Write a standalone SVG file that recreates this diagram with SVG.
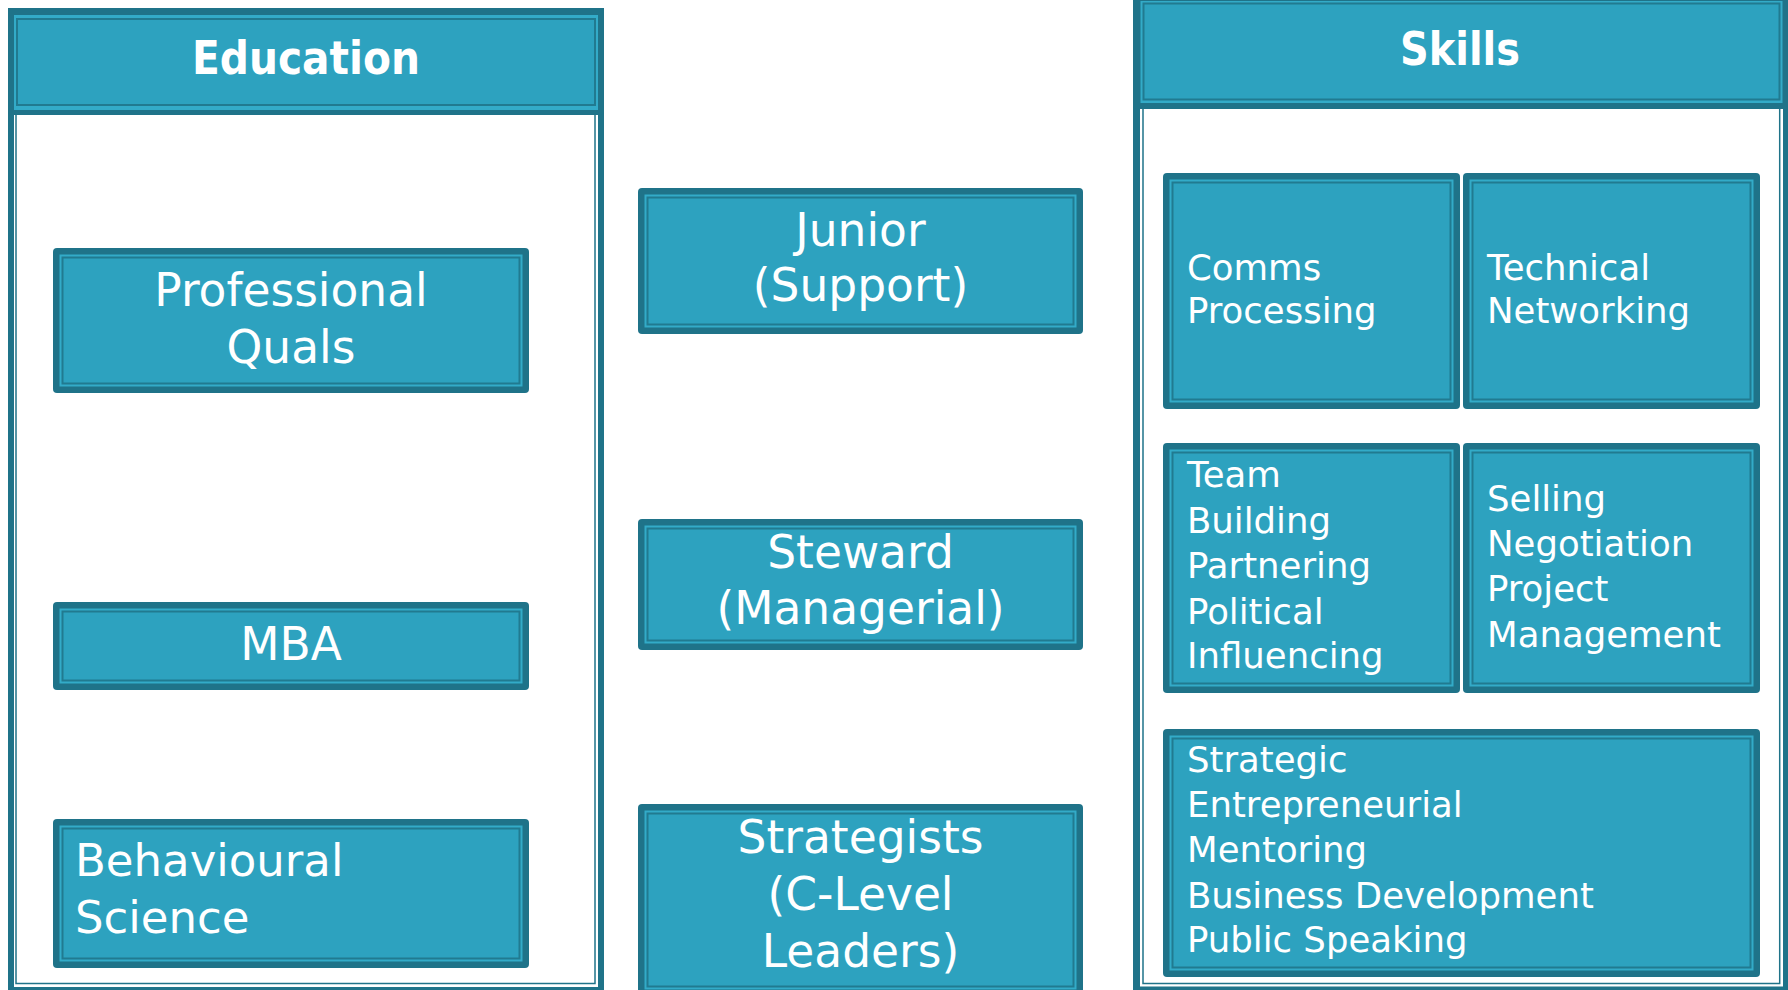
<svg xmlns="http://www.w3.org/2000/svg" width="1788" height="990" viewBox="0 0 1788 990">
<style>
.dk{fill:#1F7389}
.lt{fill:#33ABC8}
.in{fill:#2DA2BF;stroke:#217A90;stroke-width:2}
.body{fill:#FFFFFF;stroke:#1F7389}
.thin{fill:none;stroke:#1F7389;stroke-width:1.5}
text{font-family:"DejaVu Sans","Liberation Sans",sans-serif;fill:#FFFFFF}
.t{font-size:47px;font-weight:bold;text-anchor:middle}
.c{font-size:45.5px;text-anchor:middle}
.l{font-size:45px}
.s{font-size:35.5px}
</style>
<rect width="1788" height="990" fill="#FFFFFF"/>

<g id="education">
<rect class="body" x="11" y="11" width="590" height="979" stroke-width="6"/>
<rect class="thin" x="16" y="16" width="579" height="967.5"/>
<rect class="dk" x="8" y="8" width="596" height="107" rx="3"/>
<rect class="lt" x="14" y="15" width="584" height="95"/>
<rect class="in" x="17" y="19" width="578" height="86"/>
<text class="t" x="306" y="74" textLength="228" lengthAdjust="spacingAndGlyphs">Education</text>
</g>

<g id="skills">
<rect class="body" x="1136.5" y="11" width="650" height="979" stroke-width="7"/>
<rect class="thin" x="1143" y="16" width="636.7" height="967.5"/>
<rect class="dk" x="1133" y="-6" width="657" height="115" rx="3"/>
<rect class="lt" x="1140.5" y="1" width="642" height="102"/>
<rect class="in" x="1143.5" y="3.5" width="636" height="96"/>
<text class="t" x="1460" y="65" textLength="120" lengthAdjust="spacingAndGlyphs">Skills</text>
</g>

<g id="prof-quals">
<rect class="dk" x="53" y="248" width="476" height="145" rx="4"/>
<rect class="lt" x="59.5" y="254.5" width="463" height="132"/>
<rect class="in" x="62.5" y="257.5" width="457" height="126"/>
<text class="c" x="291" y="305.5">Professional</text>
<text class="c" x="291" y="362.5">Quals</text>
</g>

<g id="mba">
<rect class="dk" x="53" y="602" width="476" height="88" rx="4"/>
<rect class="lt" x="59.5" y="608.5" width="463" height="75"/>
<rect class="in" x="62.5" y="611.5" width="457" height="69"/>
<text class="c" x="291" y="660">MBA</text>
</g>

<g id="behavioural">
<rect class="dk" x="53" y="819" width="476" height="149" rx="4"/>
<rect class="lt" x="59.5" y="825.5" width="463" height="136"/>
<rect class="in" x="62.5" y="828.5" width="457" height="130"/>
<text class="l" x="75" y="875.5">Behavioural</text>
<text class="l" x="75" y="932.5">Science</text>
</g>

<g id="junior">
<rect class="dk" x="638" y="188" width="445" height="146" rx="4"/>
<rect class="lt" x="644.5" y="194.5" width="432" height="133"/>
<rect class="in" x="647.5" y="197.5" width="426" height="127"/>
<text class="c" x="860.5" y="246">Junior</text>
<text class="c" x="860.5" y="301">(Support)</text>
</g>

<g id="steward">
<rect class="dk" x="638" y="519" width="445" height="131" rx="4"/>
<rect class="lt" x="644.5" y="525.5" width="432" height="118"/>
<rect class="in" x="647.5" y="528.5" width="426" height="112"/>
<text class="c" x="860.5" y="568">Steward</text>
<text class="c" x="860.5" y="623.5">(Managerial)</text>
</g>

<g id="strategists">
<rect class="dk" x="638" y="804" width="445" height="192" rx="4"/>
<rect class="lt" x="644.5" y="810.5" width="432" height="179"/>
<rect class="in" x="647.5" y="813.5" width="426" height="173"/>
<text class="c" x="860.5" y="853">Strategists</text>
<text class="c" x="860.5" y="910">(C-Level</text>
<text class="c" x="860.5" y="967">Leaders)</text>
</g>

<g id="comms">
<rect class="dk" x="1163" y="173" width="297" height="236" rx="4"/>
<rect class="lt" x="1169.5" y="179.5" width="284" height="223"/>
<rect class="in" x="1172.5" y="182.5" width="278" height="217"/>
<text class="s" x="1187" y="279.5">Comms</text>
<text class="s" x="1187" y="323">Processing</text>
</g>

<g id="technical">
<rect class="dk" x="1463" y="173" width="297" height="236" rx="4"/>
<rect class="lt" x="1469.5" y="179.5" width="284" height="223"/>
<rect class="in" x="1472.5" y="182.5" width="278" height="217"/>
<text class="s" x="1487" y="279.5">Technical</text>
<text class="s" x="1487" y="323">Networking</text>
</g>

<g id="team">
<rect class="dk" x="1163" y="443" width="297" height="250" rx="4"/>
<rect class="lt" x="1169.5" y="449.5" width="284" height="237"/>
<rect class="in" x="1172.5" y="452.5" width="278" height="231"/>
<text class="s" x="1187" y="487">Team</text>
<text class="s" x="1187" y="532.5">Building</text>
<text class="s" x="1187" y="578">Partnering</text>
<text class="s" x="1187" y="623.5">Political</text>
<text class="s" x="1187" y="668">Influencing</text>
</g>

<g id="selling">
<rect class="dk" x="1463" y="443" width="297" height="250" rx="4"/>
<rect class="lt" x="1469.5" y="449.5" width="284" height="237"/>
<rect class="in" x="1472.5" y="452.5" width="278" height="231"/>
<text class="s" x="1487" y="511">Selling</text>
<text class="s" x="1487" y="555.5">Negotiation</text>
<text class="s" x="1487" y="601">Project</text>
<text class="s" x="1487" y="646.5">Management</text>
</g>

<g id="strategic">
<rect class="dk" x="1163" y="729" width="597" height="248" rx="4"/>
<rect class="lt" x="1169.5" y="735.5" width="584" height="235"/>
<rect class="in" x="1172.5" y="738.5" width="578" height="229"/>
<text class="s" x="1187" y="772">Strategic</text>
<text class="s" x="1187" y="816.5">Entrepreneurial</text>
<text class="s" x="1187" y="862">Mentoring</text>
<text class="s" x="1187" y="907.5">Business Development</text>
<text class="s" x="1187" y="952">Public Speaking</text>
</g>

<g id="connectors"></g>
</svg>
